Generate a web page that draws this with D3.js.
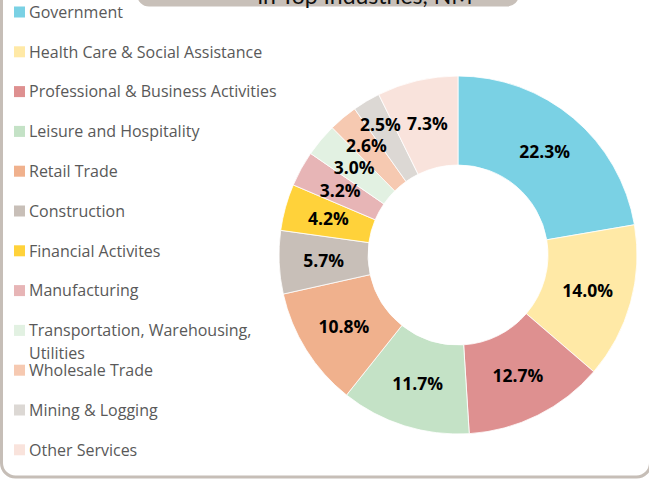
<!DOCTYPE html>
<html>
<head>
<meta charset="utf-8">
<script src="https://cdn.jsdelivr.net/npm/d3@7"></script>
<style>
  body { margin: 0; background: #fff; }
  svg { display: block; }
</style>
</head>
<body>
<div id="chart"></div>
<script>
// industry shares, NM
const industries = [
  'Government',
  'Health Care & Social Assistance',
  'Professional & Business Activities',
  'Leisure and Hospitality',
  'Retail Trade',
  'Construction',
  'Financial Activites',
  'Manufacturing',
  'Transportation, Warehousing, Utilities',
  'Wholesale Trade',
  'Mining & Logging',
  'Other Services'
];
const shares = [22.3, 14.0, 12.7, 11.7, 10.8, 5.7, 4.2, 3.2, 3.0, 2.6, 2.5, 7.3];
const colors = ['#7AD1E4', '#FFE9A6', '#DE9090', '#C4E2C6', '#F0B18D', '#C8BFB8',
                '#FFD23A', '#E7B5B6', '#E2F1E2', '#F6C9B1', '#DCD8D4', '#F9E3DC'];
const titleText = 'in Top Industries, NM';

const width = 649, height = 479;
const svg = d3.select('#chart')
    .append('svg')
    .attr('width', width)
    .attr('height', height);

// outer frame
svg.append('rect')
    .attr('x', 1.5)
    .attr('y', -30)
    .attr('width', 649)
    .attr('height', 507)
    .attr('rx', 14)
    .attr('fill', 'none')
    .attr('stroke', '#C6BEB7')
    .attr('stroke-width', 3);

// title tab (cut off at the top)
svg.append('rect')
    .attr('x', 137)
    .attr('y', -40)
    .attr('width', 382)
    .attr('height', 46.5)
    .attr('rx', 12)
    .attr('fill', '#C8C0B9');
svg.append('text')
    .attr('x', 365)
    .attr('y', 4)
    .attr('text-anchor', 'middle')
    .attr('font-family', 'Lato, sans-serif')
    .attr('font-size', 23)
    .attr('fill', '#111')
    .text(titleText);

// donut
const cx = 458, cy = 255, rOuter = 179, rInner = 90;
const pie = d3.pie().sort(null).value(d => d);
const arc = d3.arc().innerRadius(rInner).outerRadius(rOuter);
const arcs = pie(shares);

const g = svg.append('g').attr('transform', `translate(${cx},${cy})`);
g.selectAll('path')
    .data(arcs)
    .enter()
    .append('path')
    .attr('d', arc)
    .attr('fill', (d, i) => colors[i])
    .attr('stroke', '#fff')
    .attr('stroke-width', 0.8);

// label positions: centroid, pushed outward when it hits the previous label
const boxW = 42, boxH = 22;
const placed = [];
arcs.forEach((d, i) => {
    const a = (d.startAngle + d.endAngle) / 2;
    let r = (rInner + rOuter) / 2;
    let p = [r * Math.sin(a), -r * Math.cos(a)];
    const prev = placed[i - 1];
    while (prev && r < 151 &&
           Math.abs(p[0] - prev[0]) < boxW && Math.abs(p[1] - prev[1]) < boxH) {
        r += 1;
        p = [r * Math.sin(a), -r * Math.cos(a)];
    }
    placed.push(p);
});

g.selectAll('text')
    .data(arcs)
    .enter()
    .append('text')
    .attr('transform', (d, i) => `translate(${placed[i]})`)
    .attr('text-anchor', 'middle')
    .attr('dy', '0.36em')
    .attr('font-family', '"Open Sans", sans-serif')
    .attr('font-weight', 'bold')
    .attr('font-size', 17.5)
    .attr('fill', '#000')
    .text(d => d.data.toFixed(1) + '%');

// legend
const legend = svg.append('g').attr('transform', 'translate(14,12)');
const row = legend.selectAll('g')
    .data(industries)
    .enter()
    .append('g')
    .attr('transform', (d, i) => `translate(0,${i * 39.8})`);

row.append('rect')
    .attr('x', 0)
    .attr('y', -5.5)
    .attr('width', 11)
    .attr('height', 11)
    .attr('fill', (d, i) => colors[i]);

row.append('text')
    .attr('x', 15)
    .attr('y', 0)
    .attr('dy', '0.36em')
    .attr('font-family', '"Open Sans", sans-serif')
    .attr('font-size', 16)
    .attr('fill', '#595959')
    .each(function (d) {
        // wrap the long transport label onto two lines
        const t = d3.select(this);
        if (d.startsWith('Transportation')) {
            t.append('tspan').attr('x', 15).text('Transportation, Warehousing,');
            t.append('tspan').attr('x', 15).attr('dy', 23).text('Utilities');
        } else {
            t.text(d);
        }
    });
</script>
</body>
</html>
